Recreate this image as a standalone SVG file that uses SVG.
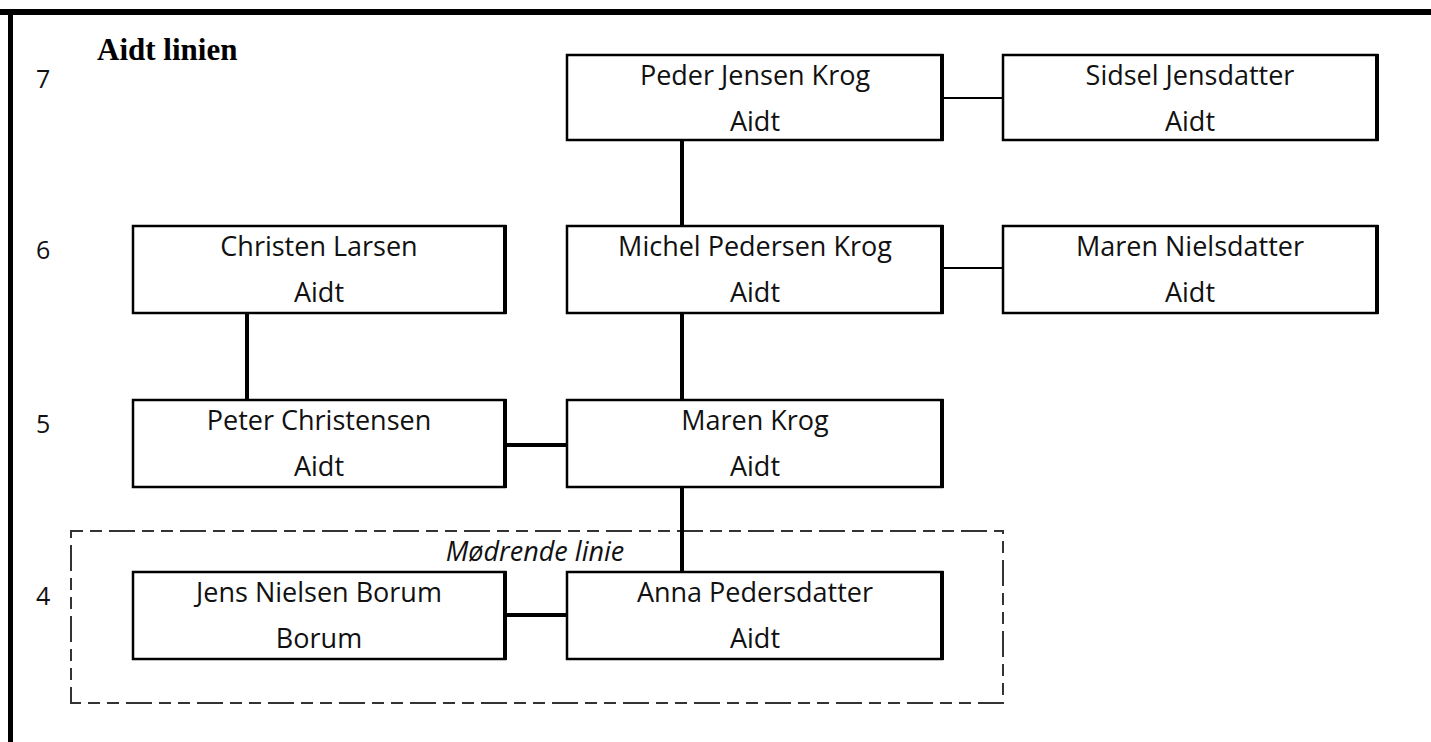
<svg xmlns="http://www.w3.org/2000/svg" width="1431" height="742" viewBox="0 0 1431 742">
<style>
.box{fill:#fff;stroke:#000;stroke-width:2.5}
.edge{stroke:#000;stroke-width:4}
.t{font-family:"Open Sans","Noto Sans","Liberation Sans",sans-serif;font-size:27px;fill:#111;text-anchor:middle}
.n{font-family:"Open Sans","Noto Sans","Liberation Sans",sans-serif;font-size:25px;fill:#111}
.c{stroke:#000;stroke-width:4;fill:none}
.ct{stroke:#000;stroke-width:2;fill:none}
</style>
<rect x="0" y="0" width="1431" height="742" fill="#fff"/>
<rect x="0" y="9" width="1431" height="6" fill="#000"/>
<rect x="8" y="9" width="5" height="733" fill="#000"/>
<text x="97" y="60" font-family="Liberation Serif,serif" font-weight="bold" font-size="31" fill="#000">Aidt linien</text>
<g id="levels">
<text class="n" x="36" y="88">7</text>
<text class="n" x="36" y="259">6</text>
<text class="n" x="36" y="433">5</text>
<text class="n" x="36" y="605">4</text>
</g>
<g id="group-modrende">
<rect x="71" y="531" width="932" height="172" fill="none" stroke="#333" stroke-width="2" stroke-dasharray="12 7 12 7 26 7"/>
<text x="535" y="561" font-family="'Open Sans','Noto Sans','Liberation Sans',sans-serif" font-style="italic" font-size="27" fill="#111" text-anchor="middle">Mødrende linie</text>
</g>
<g id="connectors">
<line class="ct" x1="942" y1="98" x2="1003" y2="98"/>
<line class="ct" x1="942" y1="268" x2="1003" y2="268"/>
<line class="c" x1="682" y1="140" x2="682" y2="226"/>
<line class="c" x1="682" y1="313" x2="682" y2="400"/>
<line class="c" x1="682" y1="487" x2="682" y2="572"/>
<line class="c" x1="247" y1="313" x2="247" y2="400"/>
<line class="c" x1="505" y1="445" x2="567" y2="445"/>
<line class="c" x1="505" y1="615" x2="567" y2="615"/>
</g>
<g id="n-peder">
<rect class="box" x="567" y="55" width="375" height="85"/><line class="edge" x1="942" y1="54" x2="942" y2="141"/>
<text class="t" x="755" y="85">Peder Jensen Krog</text><text class="t" x="755" y="131">Aidt</text>
</g>
<g id="n-sidsel">
<rect class="box" x="1003" y="55" width="374" height="85"/><line class="edge" x1="1377" y1="54" x2="1377" y2="141"/>
<text class="t" x="1190" y="85">Sidsel Jensdatter</text><text class="t" x="1190" y="131">Aidt</text>
</g>
<g id="n-christen">
<rect class="box" x="133" y="226" width="372" height="87"/><line class="edge" x1="505" y1="225" x2="505" y2="314"/>
<text class="t" x="319" y="256">Christen Larsen</text><text class="t" x="319" y="302">Aidt</text>
</g>
<g id="n-michel">
<rect class="box" x="567" y="226" width="375" height="87"/><line class="edge" x1="942" y1="225" x2="942" y2="314"/>
<text class="t" x="755" y="256">Michel Pedersen Krog</text><text class="t" x="755" y="302">Aidt</text>
</g>
<g id="n-maren-n">
<rect class="box" x="1003" y="226" width="374" height="87"/><line class="edge" x1="1377" y1="225" x2="1377" y2="314"/>
<text class="t" x="1190" y="256">Maren Nielsdatter</text><text class="t" x="1190" y="302">Aidt</text>
</g>
<g id="n-peter">
<rect class="box" x="133" y="400" width="372" height="87"/><line class="edge" x1="505" y1="399" x2="505" y2="488"/>
<text class="t" x="319" y="430">Peter Christensen</text><text class="t" x="319" y="476">Aidt</text>
</g>
<g id="n-maren-krog">
<rect class="box" x="567" y="400" width="375" height="87"/><line class="edge" x1="942" y1="399" x2="942" y2="488"/>
<text class="t" x="755" y="430">Maren Krog</text><text class="t" x="755" y="476">Aidt</text>
</g>
<g id="n-jens">
<rect class="box" x="133" y="572" width="372" height="87"/><line class="edge" x1="505" y1="571" x2="505" y2="660"/>
<text class="t" x="319" y="602">Jens Nielsen Borum</text><text class="t" x="319" y="648">Borum</text>
</g>
<g id="n-anna">
<rect class="box" x="567" y="572" width="375" height="87"/><line class="edge" x1="942" y1="571" x2="942" y2="660"/>
<text class="t" x="755" y="602">Anna Pedersdatter</text><text class="t" x="755" y="648">Aidt</text>
</g>
</svg>
